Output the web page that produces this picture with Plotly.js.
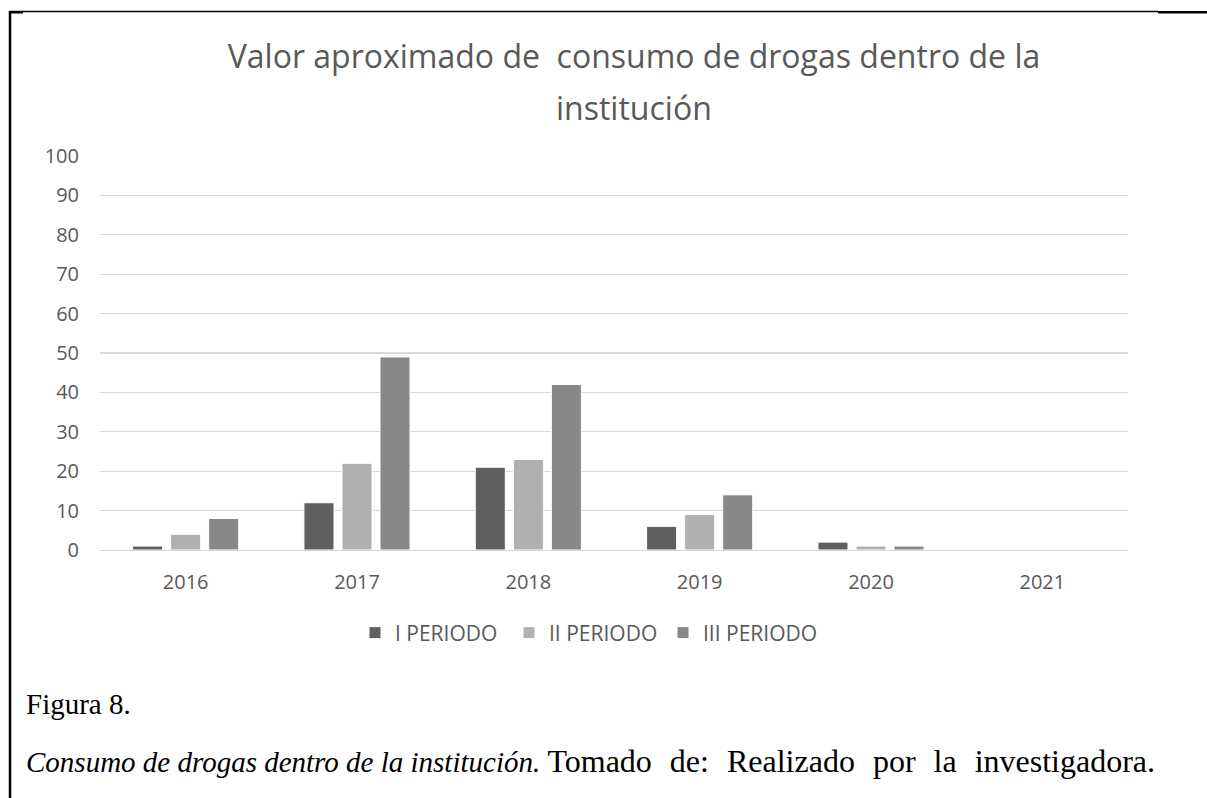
<!DOCTYPE html>
<html>
<head>
<meta charset="utf-8">
<script src="https://cdn.plot.ly/plotly-3.0.1.min.js"></script>
<style>
html,body{margin:0;padding:0;background:#fff;}
#chart{width:1207px;height:798px;}
</style>
</head>
<body>
<div id="chart"></div>
<script>
const years = ["2016", "2017", "2018", "2019", "2020", "2021"];
const seriesNames = ["I PERIODO", "II PERIODO", "III PERIODO"];
const periodo1 = [1, 12, 21, 6, 2, 0];
const periodo2 = [4, 22, 23, 9, 1, 0];
const periodo3 = [8, 49, 42, 14, 1, 0];
const seriesColors = ["#606060", "#b0b0b0", "#888888"];
const titleLine1 = "Valor aproximado de  consumo de drogas dentro de la";
const titleLine2 = "institución";
const figLabel = "Figura 8.";
const captionItalic = "Consumo de drogas dentro de la institución.";
const captionRest = "Tomado de: Realizado por la investigadora.";

const W = 1207, H = 798;
const L = 100, R = 79, T = 156, B = 248;
const pw = W - L - R, ph = H - T - B;
const px = v => (v - L) / pw;
const py = v => (H - B - v) / ph;

const allValues = [periodo1, periodo2, periodo3];
const traces = allValues.map((vals, i) => ({
  type: "bar",
  name: seriesNames[i],
  x: years,
  y: vals,
  marker: {color: seriesColors[i], line: {color: "#ffffff", width: 1}},
  hoverinfo: "x+y+name"
}));

const lineCol = "#000000";
const layout = {
  width: W, height: H,
  margin: {l: L, r: R, t: T, b: B, pad: 0},
  paper_bgcolor: "#ffffff",
  plot_bgcolor: "#ffffff",
  font: {family: "Open Sans, sans-serif", color: "#595959", size: 20},
  barmode: "group",
  bargap: 0.334,
  bargroupgap: 0.21,
  title: {
    text: titleLine1,
    font: {family: "Open Sans, sans-serif", size: 32, color: "#595959"},
    xref: "container", yref: "container",
    x: 634 / W, xanchor: "center",
    y: 1 - 57 / H, yanchor: "middle"
  },
  xaxis: {
    type: "category",
    showgrid: false,
    showline: true, linecolor: "#d9d9d9", linewidth: 1.3,
    ticks: "", ticklabelstandoff: 14,
    tickfont: {size: 20, color: "#595959"},
    fixedrange: true
  },
  yaxis: {
    range: [0, 100],
    dtick: 10, tick0: 0,
    showgrid: true, gridcolor: "#d9d9d9", gridwidth: 1.3,
    zeroline: false, showline: false,
    ticks: "", ticklabelstandoff: 20,
    tickfont: {size: 20, color: "#595959"},
    fixedrange: true
  },
  showlegend: true,
  legend: {
    orientation: "h",
    x: px(355), xanchor: "left",
    y: py(633), yanchor: "middle",
    entrywidth: 109,
    font: {size: 21, color: "#595959"},
    traceorder: "normal",
    bgcolor: "rgba(0,0,0,0)"
  },
  annotations: [
    {text: titleLine2, xref: "paper", yref: "paper", x: px(634), y: py(107),
     xanchor: "center", yanchor: "middle", showarrow: false,
     font: {family: "Open Sans, sans-serif", size: 32, color: "#595959"}},
    {text: figLabel, xref: "paper", yref: "paper", x: px(24), y: py(704),
     xanchor: "left", yanchor: "middle", showarrow: false,
     font: {family: "Liberation Serif, Times New Roman, serif", size: 29, color: "#000000"}},
    {text: "<i>" + captionItalic + "</i> <span style=\"font-size:32px;word-spacing:10px\">" + captionRest + "</span>",
     xref: "paper", yref: "paper", x: px(24), y: py(761),
     xanchor: "left", yanchor: "middle", showarrow: false,
     font: {family: "Liberation Serif, Times New Roman, serif", size: 29, color: "#000000"}}
  ],
  shapes: [
    {type: "line", xref: "paper", yref: "paper", x0: px(10), x1: px(10), y0: py(11), y1: py(H + 2),
     line: {color: lineCol, width: 2.5}},
    {type: "line", xref: "paper", yref: "paper", x0: px(10), x1: px(1158), y0: py(11.5), y1: py(11.5),
     line: {color: lineCol, width: 1.3}},
    {type: "line", xref: "paper", yref: "paper", x0: px(10), x1: px(23), y0: py(12.5), y1: py(12.5),
     line: {color: lineCol, width: 2}},
    {type: "line", xref: "paper", yref: "paper", x0: px(1158), x1: px(W + 2), y0: py(12.3), y1: py(12.3),
     line: {color: lineCol, width: 2.5}}
  ]
};

Plotly.newPlot("chart", traces, layout, {displayModeBar: false, staticPlot: true});
</script>
</body>
</html>
